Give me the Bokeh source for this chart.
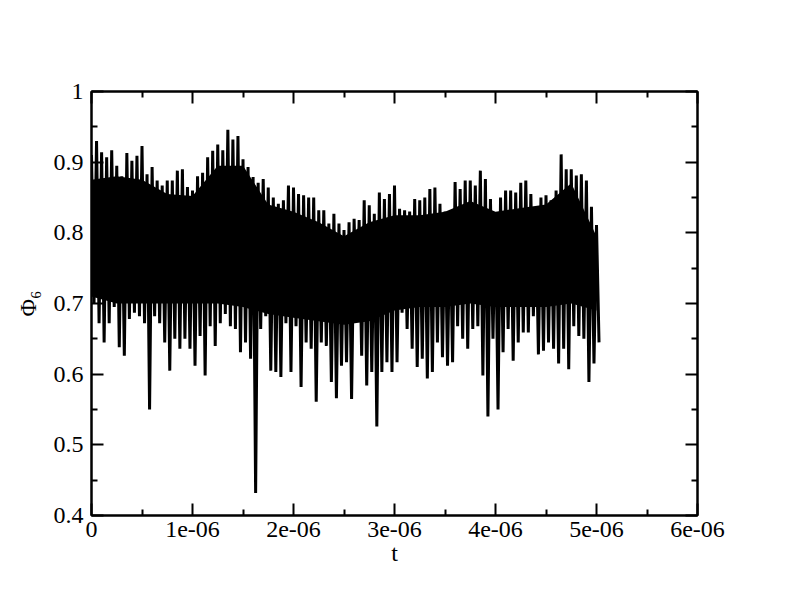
import numpy as np
from bokeh.plotting import figure
from bokeh.models import FixedTicker, CustomJSTickFormatter, LinearAxis, Range1d
from bokeh.embed import file_html
from bokeh.resources import INLINE

# time grid (units of seconds), step 0.05e-6 from 0 to 5e-6
t_grid = np.arange(101) * 0.05e-6

# upper envelope of Phi_6 (peaks)
phi_hi = [0.91, 0.93, 0.914, 0.907, 0.917, 0.895, 0.88, 0.913, 0.902, 0.909,
          0.923, 0.883, 0.893, 0.874, 0.867, 0.874, 0.874, 0.888, 0.89, 0.865,
          0.86, 0.88, 0.885, 0.907, 0.916, 0.925, 0.917, 0.946, 0.932, 0.937,
          0.904, 0.893, 0.879, 0.871, 0.876, 0.864, 0.85, 0.841, 0.846, 0.867,
          0.864, 0.855, 0.853, 0.85, 0.85, 0.832, 0.832, 0.813, 0.827, 0.813,
          0.804, 0.815, 0.82, 0.818, 0.846, 0.839, 0.827, 0.857, 0.848, 0.855,
          0.867, 0.834, 0.832, 0.83, 0.848, 0.846, 0.85, 0.862, 0.864, 0.841,
          0.83, 0.827, 0.872, 0.862, 0.874, 0.874, 0.867, 0.888, 0.876, 0.848,
          0.827, 0.85, 0.86, 0.86, 0.857, 0.871, 0.874, 0.855, 0.83, 0.85,
          0.853, 0.846, 0.86, 0.911, 0.89, 0.89, 0.881, 0.883, 0.874, 0.837,
          0.811]

# lower envelope of Phi_6 (troughs)
phi_lo = [0.70, 0.672, 0.645, 0.672, 0.695, 0.638, 0.626, 0.678, 0.687, 0.682,
          0.672, 0.55, 0.682, 0.672, 0.645, 0.605, 0.65, 0.636, 0.65, 0.636,
          0.612, 0.654, 0.598, 0.668, 0.64, 0.672, 0.685, 0.668, 0.664, 0.631,
          0.645, 0.622, 0.432, 0.664, 0.682, 0.605, 0.603, 0.596, 0.672, 0.603,
          0.668, 0.582, 0.645, 0.636, 0.561, 0.645, 0.64, 0.589, 0.566, 0.612,
          0.617, 0.565, 0.682, 0.626, 0.584, 0.603, 0.526, 0.603, 0.617, 0.603,
          0.617, 0.687, 0.664, 0.636, 0.61, 0.622, 0.594, 0.603, 0.645, 0.624,
          0.612, 0.617, 0.668, 0.65, 0.636, 0.664, 0.668, 0.598, 0.54, 0.65,
          0.55, 0.631, 0.664, 0.619, 0.645, 0.659, 0.659, 0.682, 0.628, 0.633,
          0.645, 0.636, 0.615, 0.636, 0.607, 0.668, 0.654, 0.65, 0.589, 0.615,
          0.645]

# dense core band (always black), every 0.25e-6 from 0 to 5e-6
t_core = np.arange(21) * 0.25e-6
core_hi = [0.875, 0.88, 0.875, 0.855, 0.852, 0.895, 0.895, 0.84, 0.83, 0.815,
           0.795, 0.815, 0.825, 0.825, 0.83, 0.845, 0.83, 0.835, 0.84, 0.87,
           0.795]
core_lo = [0.71, 0.70, 0.70, 0.70, 0.70, 0.70, 0.695, 0.685, 0.68, 0.675,
           0.67, 0.675, 0.69, 0.695, 0.695, 0.70, 0.695, 0.695, 0.695, 0.70,
           0.69]

x_ticks = [0.0, 1e-6, 2e-6, 3e-6, 4e-6, 5e-6, 6e-6]
x_labels = ["0", "1e-06", "2e-06", "3e-06", "4e-06", "5e-06", "6e-06"]
x_minor = [0.5e-6, 1.5e-6, 2.5e-6, 3.5e-6, 4.5e-6, 5.5e-6]
y_ticks = [0.4, 0.5, 0.6, 0.7, 0.8, 0.9, 1.0]
y_labels = ["0.4", "0.5", "0.6", "0.7", "0.8", "0.9", "1"]
y_minor = [0.45, 0.55, 0.65, 0.75, 0.85, 0.95]

# zigzag between peaks and troughs
half = 0.025e-6
xs, ys = [], []
for t, h, l in zip(t_grid, phi_hi, phi_lo):
    xs += [t, t + half]
    ys += [h, l]

W, H = 776, 591
L, T, R, B = 91, 91, 697, 515
p = figure(width=W, height=H, output_backend="svg", toolbar_location=None,
           x_range=Range1d(0, 6e-6), y_range=Range1d(0.4, 1.0),
           min_border_left=L, min_border_right=W - R,
           min_border_top=T, min_border_bottom=H - B)
p.grid.visible = False
p.outline_line_color = "black"
p.outline_line_width = 2
p.background_fill_color = "white"
p.border_fill_color = "white"

p.varea(x=t_core, y1=core_lo, y2=core_hi, fill_color="black", fill_alpha=1.0)
p.line(xs, ys, line_color="black", line_width=3.0, line_join="miter")

FONT = "'Liberation Serif', 'Times New Roman', serif"
fmt_code = """
let best = 0, bd = Infinity;
for (let i = 0; i < tvals.length; i++) {
  const d = Math.abs(tvals[i] - tick);
  if (d < bd) { bd = d; best = i; }
}
return tlabels[best];
"""
xfmt = CustomJSTickFormatter(args=dict(tvals=x_ticks, tlabels=x_labels), code=fmt_code)
yfmt = CustomJSTickFormatter(args=dict(tvals=y_ticks, tlabels=y_labels), code=fmt_code)
blank = CustomJSTickFormatter(code="return '';")

def style(ax, ticks, minor):
    ax.ticker = FixedTicker(ticks=ticks, minor_ticks=minor)
    ax.major_tick_in = 12
    ax.major_tick_out = 0
    ax.minor_tick_in = 6
    ax.minor_tick_out = 0
    ax.major_tick_line_width = 2
    ax.minor_tick_line_width = 2
    ax.axis_line_width = 2
    ax.major_label_text_font = FONT
    ax.major_label_text_font_size = "24px"
    ax.major_label_text_color = "black"
    ax.axis_label_text_font = FONT
    ax.axis_label_text_font_size = "24px"
    ax.axis_label_text_font_style = "normal"
    ax.axis_label_text_color = "black"

xa = p.xaxis[0]
style(xa, x_ticks, x_minor)
xa.formatter = xfmt
xa.axis_label = "t"
xa.major_label_standoff = 6
xa.axis_label_standoff = 0

ya = p.yaxis[0]
style(ya, y_ticks, y_minor)
ya.formatter = yfmt
ya.axis_label = "Φ₆"
ya.major_label_standoff = 8
ya.axis_label_standoff = 10

top = LinearAxis(formatter=blank)
style(top, x_ticks, x_minor)
p.add_layout(top, "above")
right = LinearAxis(formatter=blank)
style(right, y_ticks, y_minor)
p.add_layout(right, "right")

open("out.html", "w").write(file_html(p, INLINE))
